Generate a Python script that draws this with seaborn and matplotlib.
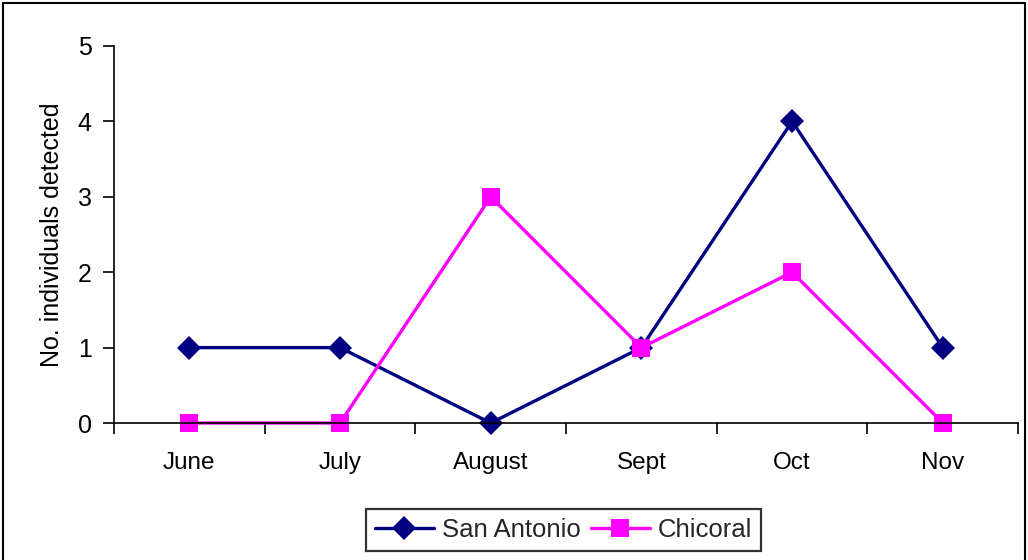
import matplotlib
matplotlib.use("Agg")
import matplotlib.pyplot as plt
import seaborn as sns
import pandas as pd
from matplotlib.patches import Rectangle

months = ["June", "July", "August", "Sept", "Oct", "Nov"]
san_antonio = [1, 1, 0, 1, 4, 1]
chicoral = [0, 0, 3, 1, 2, 0]

sns.set_theme(style="white")
plt.rcParams['font.family'] = ['Liberation Sans', 'DejaVu Sans']

df = pd.DataFrame({
    "month": months * 2,
    "value": san_antonio + chicoral,
    "series": ["San Antonio"] * len(months) + ["Chicoral"] * len(months),
})
df["x"] = list(range(len(months))) * 2

fig = plt.figure(figsize=(10.28, 5.6), dpi=100)
ax = fig.add_axes([0.1109, 0.2446, 0.8795, 0.6733])

sns.lineplot(data=df, x="x", y="value", hue="series", style="series",
             palette={"San Antonio": "#000080", "Chicoral": "#FF00FF"},
             markers={"San Antonio": "D", "Chicoral": "s"},
             dashes=False, linewidth=2.4, markersize=12, markeredgewidth=0,
             ax=ax, legend=True)
for line in ax.lines:
    if line.get_marker() == "D":
        line.set_markersize(12)
    elif line.get_marker() == "s":
        line.set_markersize(13)
    line.set_clip_on(False)

ax.set_xlim(-0.5, 5.5)
ax.set_ylim(0, 5)
ax.set_yticks([0, 1, 2, 3, 4, 5])
ax.set_xticks(range(len(months)))
ax.set_xticklabels(months)
ax.set_xticks([i - 0.5 for i in range(len(months) + 1)], minor=True)
ax.tick_params(axis="x", which="major", length=0, pad=21, labelsize=17.5, colors="black")
ax.tick_params(axis="x", which="minor", length=8, width=1.2, direction="out", bottom=True, color="black")
ax.tick_params(axis="y", which="major", length=8, width=1.2, direction="out", left=True, labelsize=18, pad=8, colors="black")
ax.set_xlabel("")
ax.set_ylabel("No. individuals detected", fontsize=18, color="black", labelpad=10)

for s in ["top", "right"]:
    ax.spines[s].set_visible(False)
for s in ["left", "bottom"]:
    ax.spines[s].set_color("black")
    ax.spines[s].set_linewidth(1.2)
ax.set_facecolor("white")

h, l = ax.get_legend_handles_labels()
for hd in h:
    hd.set_markersize(12 if hd.get_marker() == "D" else 13)
leg = ax.legend(h, l, loc="center", bbox_to_anchor=(0.548, 0.054),
                bbox_transform=fig.transFigure, ncol=2, frameon=True,
                fontsize=18.5, handlelength=2.3, columnspacing=0.4,
                handletextpad=0.3, borderpad=0.35, fancybox=False)
leg.get_frame().set_edgecolor("black")
leg.get_frame().set_linewidth(1.6)

fig.patches.append(Rectangle((0.003, -0.01), 0.994, 1.005, transform=fig.transFigure,
                             fill=False, edgecolor="black", linewidth=1.5))

fig.savefig("out.png", dpi=100, facecolor="white")
